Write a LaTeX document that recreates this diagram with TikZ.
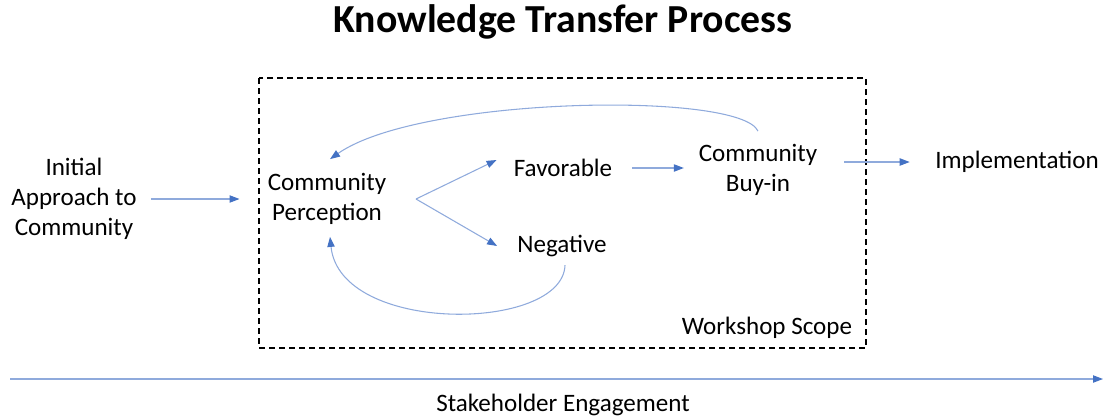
\documentclass[tikz,border=0pt]{standalone}
\usepackage{fontspec}
\setmainfont{Carlito}
\usetikzlibrary{positioning, arrows.meta}

\definecolor{lineblue}{HTML}{8FAADC}
\definecolor{tipblue}{HTML}{4472C4}

\begin{document}
\begin{tikzpicture}[x=0.75pt, y=-0.75pt,
    label/.style = {align=center, font=\fontsize{18.8}{22.5}\selectfont, inner sep=6pt},
    flow/.style = {draw=lineblue, line width=0.8pt, -{Triangle[length=7.5pt, width=5.5pt, color=tipblue]}},
    scope/.style = {draw, dashed, dash pattern=on 4.5pt off 3pt, line width=0.9pt}]
    \useasboundingbox (0,0) rectangle (1104,419);

    \node[font=\fontsize{29.8}{34}\selectfont\bfseries] (title) at (563,22) {Knowledge Transfer Process};

    \draw[scope] (259,78) rectangle (866,348);
    \node[label] (wscope) at (767,328) {Workshop Scope};

    \node[label] (init)   at (74,199)   {Initial\\Approach to\\Community};
    \node[label] (percep) at (327,199)  {Community\\Perception};
    \coordinate (fork) at (416,199);
    \node[label] (fav)    at (563,168)  {Favorable};
    \node[label] (neg)    at (562,246)  {Negative};
    \node[label] (buyin)  at (758,170)  {Community\\Buy-in};
    \node[label] (impl)   at (1017,162) {Implementation};

    \draw[flow, shorten <=4.5pt, shorten >=15pt] (init.east) -- (percep.west);
    \draw[flow] (fork) -- ([shift={(-9,-8)}]fav.west);
    \draw[flow] (fork) -- ([shift={(-12,0)}]neg.west);
    \draw[flow, shorten <=9pt, shorten >=5pt] (fav.east) -- (fav.east -| buyin.west);
    \draw[flow, shorten <=14pt, shorten >=13pt] (buyin.east |- impl.west) -- (impl.west);

    % loops back to perception
    \draw[flow] ([shift={(0,-5)}]buyin.north) .. controls +(-18,-40) and +(90,-63) .. ([shift={(3,-6)}]percep.north);
    \draw[flow] ([shift={(3,0)}]neg.south) .. controls +(-2,67) and +(10,98) .. ([shift={(3,4)}]percep.south);

    % engagement axis
    \coordinate (estart) at (10,379);
    \coordinate (eend) at (1103,379);
    \draw[flow] (estart) -- (eend);
    \node[label] (stake) at (563,405) {Stakeholder Engagement};
\end{tikzpicture}
\end{document}
